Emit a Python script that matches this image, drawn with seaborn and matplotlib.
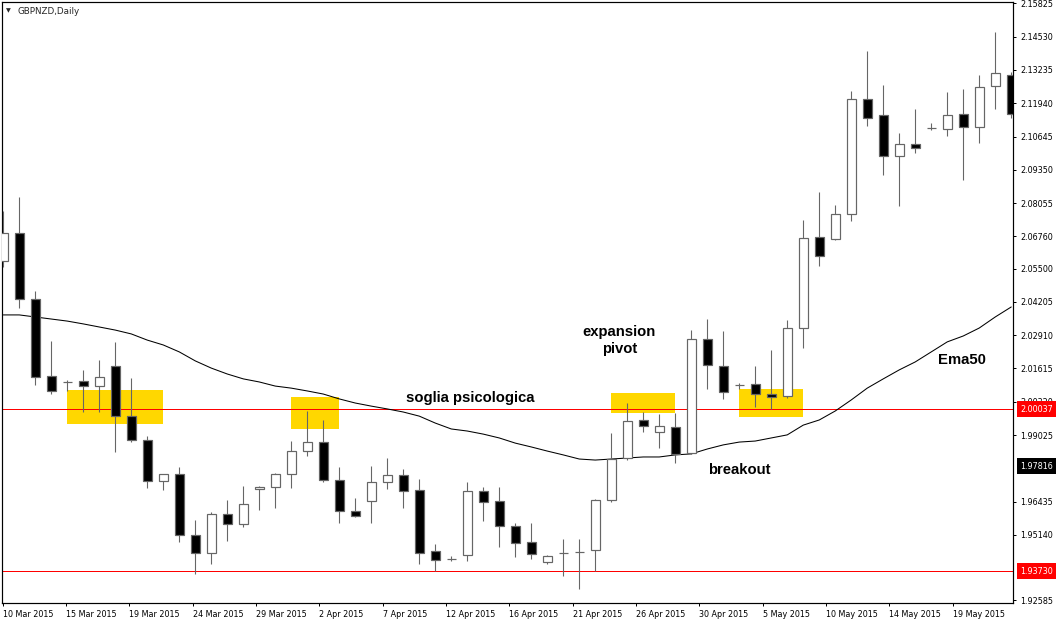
import numpy as np
import pandas as pd
import matplotlib
matplotlib.use('Agg')
import matplotlib.pyplot as plt
import seaborn as sns
from matplotlib.patches import Rectangle

# GBPNZD daily candles, 10 Mar 2015 - 20 May 2015
opens = [2.0580, 2.0689, 2.0432, 2.0132, 2.0109, 2.0113, 2.0093, 2.0171, 1.9976, 1.9883,
         1.9723, 1.9751, 1.9513, 1.9443, 1.9595, 1.9556, 1.9692, 1.9700, 1.9751, 1.9840,
         1.9875, 1.9727, 1.9607, 1.9646, 1.9720, 1.9747, 1.9688, 1.9451, 1.9420, 1.9435,
         1.9685, 1.9646, 1.9548, 1.9486, 1.9408, 1.9443, 1.9447, 1.9455, 1.9649, 1.9813,
         1.9961, 1.9914, 1.9934, 1.9832, 2.0276, 2.0171, 2.0097, 2.0101, 2.0062, 2.0054,
         2.0319, 2.0673, 2.0666, 2.0763, 2.1211, 2.1148, 2.0989, 2.1035, 2.1098, 2.1094,
         2.1152, 2.1102, 2.1261, 2.1304]
highs = [2.0775, 2.0829, 2.0463, 2.0268, 2.0117, 2.0156, 2.0194, 2.0265, 2.0124, 1.9899,
         1.9751, 1.9778, 1.9572, 1.9603, 1.9649, 1.9704, 1.9704, 1.9755, 1.9879, 1.9996,
         1.9961, 1.9778, 1.9657, 1.9782, 1.9813, 1.9770, 1.9731, 1.9478, 1.9431, 1.9720,
         1.9700, 1.9700, 1.9560, 1.9560, 1.9435, 1.9498, 1.9498, 1.9653, 1.9910, 2.0027,
         1.9992, 1.9984, 1.9988, 2.0311, 2.0354, 2.0307, 2.0105, 2.0171, 2.0233, 2.0350,
         2.0739, 2.0848, 2.0798, 2.1242, 2.1397, 2.1265, 2.1078, 2.1172, 2.1117, 2.1238,
         2.1249, 2.1304, 2.1471, 2.1316]
lows = [2.0557, 2.0397, 2.0097, 2.0062, 2.0074, 1.9992, 1.9992, 1.9836, 1.9875, 1.9696,
        1.9688, 1.9486, 1.9361, 1.9400, 1.9490, 1.9544, 1.9610, 1.9618, 1.9696, 1.9821,
        1.9720, 1.9560, 1.9583, 1.9560, 1.9692, 1.9618, 1.9400, 1.9373, 1.9412, 1.9412,
        1.9568, 1.9466, 1.9428, 1.9420, 1.9400, 1.9354, 1.9303, 1.9373, 1.9642, 1.9805,
        1.9914, 1.9852, 1.9793, 1.9829, 2.0082, 2.0043, 2.0082, 2.0011, 2.0004, 2.0047,
        2.0241, 2.0560, 2.0662, 2.0736, 2.1105, 2.0915, 2.0794, 2.1000, 2.1090, 2.1067,
        2.0895, 2.1039, 2.1172, 2.1137]
closes = [2.0689, 2.0432, 2.0128, 2.0074, 2.0108, 2.0093, 2.0128, 1.9976, 1.9883, 1.9723,
          1.9751, 1.9513, 1.9443, 1.9595, 1.9556, 1.9634, 1.9700, 1.9751, 1.9840, 1.9875,
          1.9727, 1.9607, 1.9587, 1.9720, 1.9747, 1.9685, 1.9443, 1.9416, 1.9419, 1.9685,
          1.9642, 1.9548, 1.9482, 1.9439, 1.9431, 1.9442, 1.9446, 1.9649, 1.9809, 1.9957,
          1.9938, 1.9938, 1.9829, 2.0276, 2.0175, 2.0070, 2.0096, 2.0062, 2.0050, 2.0319,
          2.0669, 2.0599, 2.0763, 2.1211, 2.1137, 2.0989, 2.1035, 2.1020, 2.1097, 2.1148,
          2.1102, 2.1257, 2.1312, 2.1152]
ema50 = [2.0370, 2.0370, 2.0362, 2.0354, 2.0346, 2.0335, 2.0323, 2.0311, 2.0296, 2.0272,
         2.0253, 2.0226, 2.0191, 2.0163, 2.0140, 2.0121, 2.0109, 2.0093, 2.0085, 2.0074,
         2.0062, 2.0043, 2.0027, 2.0015, 2.0004, 1.9992, 1.9976, 1.9949, 1.9926, 1.9918,
         1.9906, 1.9891, 1.9871, 1.9856, 1.9840, 1.9825, 1.9809, 1.9805, 1.9809, 1.9813,
         1.9817, 1.9817, 1.9825, 1.9829, 1.9848, 1.9864, 1.9875, 1.9879, 1.9891, 1.9903,
         1.9941, 1.9961, 1.9996, 2.0039, 2.0085, 2.0121, 2.0156, 2.0187, 2.0226, 2.0265,
         2.0288, 2.0319, 2.0362, 2.0401]

date_labels = ['10 Mar 2015', '15 Mar 2015', '19 Mar 2015', '24 Mar 2015', '29 Mar 2015',
               '2 Apr 2015', '7 Apr 2015', '12 Apr 2015', '16 Apr 2015', '21 Apr 2015',
               '26 Apr 2015', '30 Apr 2015', '5 May 2015', '10 May 2015', '14 May 2015',
               '19 May 2015']
price_ticks = [2.15825, 2.14530, 2.13235, 2.11940, 2.10645, 2.09350, 2.08055, 2.06760,
               2.05500, 2.04205, 2.02910, 2.01615, 2.00320, 1.99025, 1.96435, 1.95140, 1.92585]

# horizontal levels (red lines) and the price boxes on the scale
levels = [2.00037, 1.93730]
scale_marks = [(2.00037, 'red'), (1.97816, 'black'), (1.93730, 'red')]

# yellow zones: (first bar, last bar, low, high)
zones = [(4, 10, 1.9946, 2.0078),
         (18, 21, 1.9927, 2.0050),
         (38, 42, 1.9989, 2.0066),
         (46, 50, 1.9974, 2.0082)]

notes = [('soglia psicologica', 29.2, 2.0048),
         ('expansion\npivot', 38.5, 2.0270),
         ('breakout', 46.0, 1.9766),
         ('Ema50', 59.9, 2.0194)]

df = pd.DataFrame({'open': opens, 'high': highs, 'low': lows, 'close': closes, 'ema': ema50})
df['bar'] = np.arange(len(df))
df['bull'] = df['close'] >= df['open']

sns.set_style('white')
plt.rcParams['font.family'] = ['DejaVu Sans']

W, H = 1056, 624
fig = plt.figure(figsize=(W / 100, H / 100), dpi=100)
ax = fig.add_axes([2 / W, 21 / H, 1011 / W, 601 / H])

edge = '#666666'
px = 0.72  # one pixel in points

# zones behind everything
for b0, b1, lo, hi in zones:
    ax.add_patch(Rectangle((b0 - 0.02, lo), b1 - b0, hi - lo, facecolor='#ffd700',
                           edgecolor='none', zorder=1))

for lv in levels:
    ax.axhline(lv, color='red', lw=px, zorder=1.5)

# ema line
sns.lineplot(data=df, x='bar', y='ema', color='black', lw=0.75, ax=ax, zorder=2)

# candles: wicks then bodies
ax.vlines(df['bar'], df['low'], df['high'], color=edge, lw=px * 1.1, zorder=3)
body_lo = df[['open', 'close']].min(axis=1)
body_h = (df['close'] - df['open']).abs()
ax.bar(df['bar'], body_h, bottom=body_lo, width=0.56,
       color=np.where(df['bull'], 'white', 'black'), edgecolor=edge,
       linewidth=px * 1.2, zorder=4)

ax.set_xlim(-0.081, 63.11)
ax.set_ylim(1.92485, 2.15882)
ax.set_xlabel('')
ax.set_ylabel('')

for s in ax.spines.values():
    s.set_color('black')
    s.set_linewidth(px * 1.2)

# price scale on the right
ax.yaxis.tick_right()
ax.set_yticks(price_ticks)
ax.set_yticklabels([f'{v:.5f}' for v in price_ticks])
ax.tick_params(axis='y', right=True, left=False, direction='out', length=2.2,
               width=px, pad=3, labelsize=5.8, colors='black')

# date scale
ax.set_xticks(np.arange(len(date_labels)) * 3.958 - 0.04)
ax.set_xticklabels(date_labels)
ax.tick_params(axis='x', bottom=True, direction='out', length=2, width=px,
               pad=3, labelsize=5.8, colors='black')
for t in ax.get_xticklabels():
    t.set_horizontalalignment('left')

for val, col in scale_marks:
    ax.annotate(f'{val:.5f}', xy=(1, val), xycoords=('axes fraction', 'data'),
                xytext=(5.2, 0), textcoords='offset points', ha='left', va='center',
                color='white', fontsize=5.8,
                bbox=dict(boxstyle='square,pad=0.4', fc=col, ec='none'),
                annotation_clip=False, zorder=6)

for txt, xb, yv in notes:
    ax.text(xb, yv, txt, ha='center', va='center', fontsize=10.7, fontweight='bold',
            family=['Liberation Sans', 'DejaVu Sans'], color='black', zorder=7,
            linespacing=1.25)

fig.text(6 / W, 1 - 11 / H, '\u25bc', fontsize=4.5, va='center', ha='left')
fig.text(17 / W, 1 - 11 / H, 'GBPNZD,Daily', fontsize=6.3, va='center', ha='left')

fig.savefig('out.png', dpi=100, facecolor='white')
